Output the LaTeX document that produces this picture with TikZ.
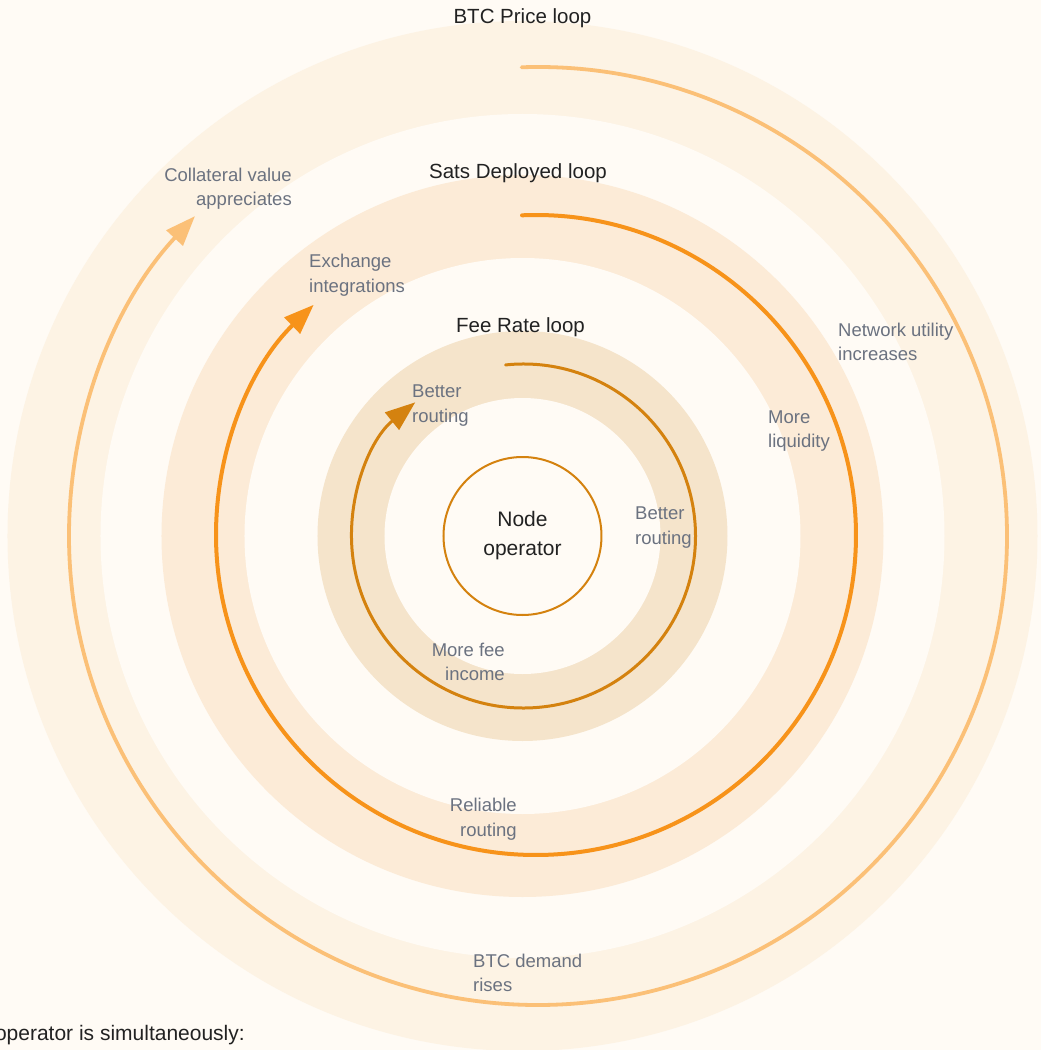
\documentclass[tikz,border=0pt]{standalone}
\usepackage{fontspec}
\setmainfont{Liberation Sans}
\usepackage{tikz}
\usetikzlibrary{arrows.meta}
\definecolor{Paper}{HTML}{FFFBF5}
\definecolor{RingOuter}{HTML}{FDF3E4}
\definecolor{RingMid}{HTML}{FCEBD7}
\definecolor{RingInner}{HTML}{F5E4CB}
\definecolor{Ochre}{HTML}{D4820F}
\definecolor{Orange}{HTML}{F7931A}
\definecolor{Peach}{HTML}{FBC077}
\definecolor{Ink}{HTML}{222222}
\definecolor{Slate}{HTML}{6B7280}

\begin{document}
\begin{tikzpicture}[x=1pt,y=1pt,
  looptitle/.style={text=Ink,font=\fontsize{20.5}{24}\selectfont,inner sep=0pt},
  note/.style={text=Slate,font=\fontsize{18.5}{24.5}\selectfont,inner sep=0pt},
  loopend/.style={line cap=round,-{Triangle[length=30pt,width=22pt]}}]
\clip (-522.5,536) rectangle (518.5,-514);
\fill[Paper] (-522.5,536) rectangle (518.5,-514);
% bands
\fill[RingOuter] (0,0) circle[radius=515];
\fill[Paper] (0,0) circle[radius=422];
\fill[RingMid] (0,0) circle[radius=361];
\fill[Paper] (0,0) circle[radius=278];
\fill[RingInner] (0,0) circle[radius=205];
\fill[Paper] (0,0) circle[radius=138];
% loops
\draw[Peach,line width=3.8pt,loopend] (15.5,0) ++(92:469) arc[start angle=92,end angle=-223,radius=469];
\draw[Orange,line width=4pt,loopend] (13.5,1) ++(92.5:320) arc[start angle=92.5,end angle=-226,radius=320];
\draw[Ochre,line width=3pt,loopend] (1,0) ++(96:172) arc[start angle=96,end angle=-231,radius=172];
\node[circle,draw=Ochre,line width=2pt,fill=Paper,text=Ink,minimum size=158pt,align=center,font=\fontsize{21}{29}\selectfont] (op) at (0,0) {Node\\operator};
% titles
\node[looptitle] (price) at (0,518) {BTC Price loop};
\node[looptitle] (sats) at (-4.5,363) {Sats Deployed loop};
\node[looptitle] (fee) at (-2,209) {Fee Rate loop};
% notes
\node[note,anchor=east,align=right] (coll) at (-230.5,347.5) {Collateral value\\appreciates};
\node[note,anchor=west,align=left] (exch) at (-213.5,261) {Exchange\\integrations};
\node[note,anchor=west,align=left] (util) at (315.5,194) {Network utility\\increases};
\node[note,anchor=west,align=left] (liq) at (245.5,105) {More\\liquidity};
\node[note,anchor=west,align=left] (rta) at (-110.5,130.5) {Better\\routing};
\node[note,anchor=west,align=left] (rtb) at (112.5,8.5) {Better\\routing};
\node[note,anchor=east,align=right] (inc) at (-17.5,-126) {More fee\\income};
\node[note,anchor=east,align=right] (rel) at (-5.5,-283) {Reliable\\routing};
\node[note,anchor=west,align=left] (dem) at (-49.5,-437) {BTC demand\\rises};
\node[text=Ink,font=\fontsize{21}{25}\selectfont,inner sep=0pt,anchor=east] (cap) at (-277.5,-499) {operator is simultaneously:};
\end{tikzpicture}
\end{document}
